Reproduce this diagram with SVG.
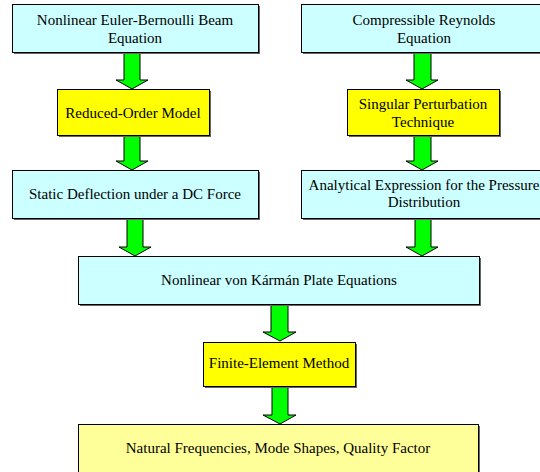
<svg xmlns="http://www.w3.org/2000/svg" width="540" height="472" viewBox="0 0 540 472">
<style>
.box{stroke:#000;stroke-width:1}
.shadow{fill:#666}
.c{fill:#CCFFFF}
.y{fill:#FFFF00}
.ly{fill:#FFFF99}
.arrow{fill:#00FF00;stroke:#000;stroke-width:1}
text{font-family:'Liberation Serif',serif;font-size:15px;fill:#000;text-anchor:middle}
</style>
<rect width="540" height="472" fill="#fff"/>
<g id="connectors">
<path class="arrow" d="M124,52 H140 V80 H148 L132,89 L116,80 H124 Z"/>
<path class="arrow" d="M124,135 H140 V161 H148 L132,170 L116,161 H124 Z"/>
<path class="arrow" d="M127,218 H143 V247 H151 L135,256 L119,247 H127 Z"/>
<path class="arrow" d="M414,52 H431 V80 H438 L422,89 L406,80 H414 Z"/>
<path class="arrow" d="M414,135 H431 V161 H438 L422,170 L406,161 H414 Z"/>
<path class="arrow" d="M415,218 H431 V247 H438 L422,256 L406,247 H415 Z"/>
<path class="arrow" d="M271,304 H288 V332 H296 L280,341 L263,332 H271 Z"/>
<path class="arrow" d="M272,386 H288 V415 H296 L280,424 L263,415 H272 Z"/>
</g>
<g id="n1">
<rect class="shadow" x="14" y="6" width="246" height="48"/>
<rect class="box c" x="12.5" y="4.5" width="246" height="48"/>
<text x="135" y="25" font-family="Liberation Serif">Nonlinear Euler-Bernoulli Beam</text>
<text x="135" y="43" font-family="Liberation Serif">Equation</text>
</g>
<g id="n2">
<rect class="shadow" x="59" y="91" width="152" height="46"/>
<rect class="box y" x="57.5" y="89.5" width="152" height="46"/>
<text x="133" y="118" font-family="Liberation Serif">Reduced-Order Model</text>
</g>
<g id="n3">
<rect class="shadow" x="14" y="172" width="246" height="48"/>
<rect class="box c" x="12.5" y="170.5" width="246" height="48"/>
<text x="135" y="199" font-family="Liberation Serif">Static Deflection under a DC Force</text>
</g>
<g id="n4">
<rect class="shadow" x="303" y="6" width="246" height="48"/>
<rect class="box c" x="301.5" y="4.5" width="246" height="48"/>
<text x="424" y="25" font-family="Liberation Serif">Compressible Reynolds</text>
<text x="424" y="43" font-family="Liberation Serif">Equation</text>
</g>
<g id="n5">
<rect class="shadow" x="349" y="91" width="152" height="46"/>
<rect class="box y" x="347.5" y="89.5" width="152" height="46"/>
<text x="423" y="109" font-family="Liberation Serif">Singular Perturbation</text>
<text x="423" y="127" font-family="Liberation Serif">Technique</text>
</g>
<g id="n6">
<rect class="shadow" x="303" y="172" width="246" height="48"/>
<rect class="box c" x="301.5" y="170.5" width="246" height="48"/>
<text x="424" y="190" font-family="Liberation Serif">Analytical Expression for the Pressure</text>
<text x="424" y="207" font-family="Liberation Serif">Distribution</text>
</g>
<g id="n7">
<rect class="shadow" x="80" y="258" width="401" height="48"/>
<rect class="box c" x="78.5" y="256.5" width="401" height="48"/>
<text x="279" y="285" font-family="Liberation Serif">Nonlinear von Kármán Plate Equations</text>
</g>
<g id="n8">
<rect class="shadow" x="205" y="344" width="152" height="44"/>
<rect class="box y" x="203.5" y="342.5" width="152" height="44"/>
<text x="279" y="368" font-family="Liberation Serif">Finite-Element Method</text>
</g>
<g id="n9">
<rect class="shadow" x="80" y="426" width="400" height="48"/>
<rect class="box ly" x="78.5" y="424.5" width="400" height="48"/>
<text x="278" y="453" font-family="Liberation Serif">Natural Frequencies, Mode Shapes, Quality Factor</text>
</g>
</svg>
